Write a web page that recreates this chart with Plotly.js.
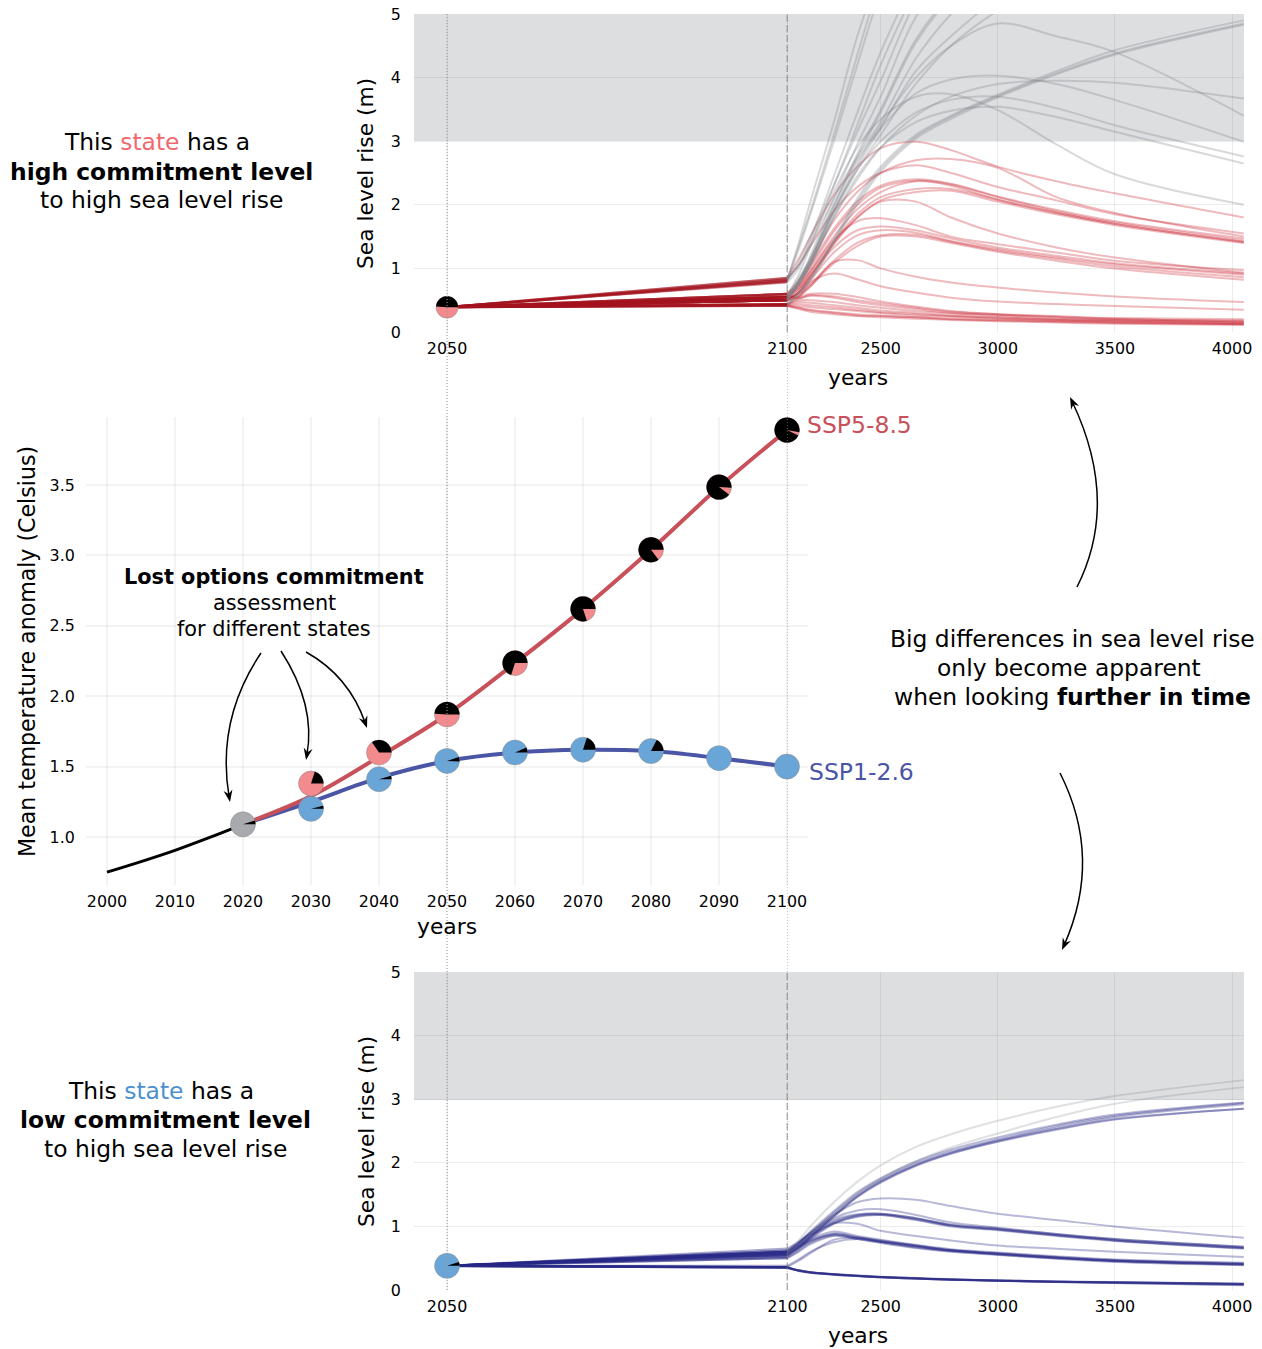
<!DOCTYPE html>
<html>
<head>
<meta charset="utf-8">
<script src="https://cdn.plot.ly/plotly-3.0.1.min.js"></script>
<style>body{margin:0;background:#fff}</style>
</head>
<body>
<div id="plot" style="width:1262px;height:1349px"></div>
<script>
// years of the sea level curves after 2100
var long_years = [2100,2150,2200,2300,2400,2500,2650,2800,3000,3250,3500,4050];
var start_2050_top = 0.39;
var start_2050_bottom = 0.38;

// SSP5-8.5 sea level, curves that stay under 3 m
var top_red = [
 [.85,1.15,1.5,2.15,2.6,2.89,2.99,2.86,2.6,2.37,2.18,1.80],
 [.6,.8,1.1,1.75,2.2,2.5,2.7,2.72,2.58,2.12,1.87,1.5],
 [.85,1.05,1.35,1.9,2.28,2.5,2.62,2.5,2.28,2.07,1.85,1.55],
 [.6,.75,1.05,1.62,2.05,2.3,2.4,2.33,2.13,1.92,1.74,1.47],
 [.55,.72,1.0,1.58,2.0,2.27,2.38,2.32,2.12,1.9,1.72,1.44],
 [.55,.68,.95,1.5,1.93,2.2,2.37,2.3,2.08,1.88,1.7,1.42],
 [.5,.65,.9,1.42,1.85,2.12,2.25,2.25,2.08,1.87,1.7,1.41],
 [.52,.62,.85,1.38,1.8,2.07,2.2,2.22,2.05,1.85,1.68,1.4],
 [.5,.62,.88,1.4,1.8,2.05,2.05,1.8,1.55,1.33,1.17,.93],
 [.6,.72,.95,1.45,1.74,1.79,1.68,1.5,1.38,1.25,1.12,.97],
 [.55,.68,.88,1.33,1.6,1.66,1.6,1.47,1.33,1.2,1.08,.92],
 [.5,.62,.82,1.25,1.52,1.6,1.56,1.43,1.3,1.17,1.06,.9],
 [.53,.6,.75,1.12,1.4,1.52,1.53,1.42,1.28,1.15,1.03,.86],
 [.5,.55,.72,1.08,1.35,1.5,1.5,1.4,1.26,1.12,1.0,.82],
 [.52,.58,.72,1.1,1.13,1.0,.87,.78,.7,.62,.56,.47],
 [.5,.55,.78,.92,.83,.72,.62,.54,.48,.44,.41,.35],
 [.58,.55,.6,.6,.55,.48,.4,.33,.28,.24,.22,.2],
 [.56,.53,.57,.54,.47,.42,.36,.3,.27,.23,.2,.18],
 [.44,.5,.5,.47,.42,.38,.33,.29,.25,.21,.19,.16],
 [.43,.47,.46,.42,.38,.34,.3,.26,.23,.2,.18,.15],
 [.43,.44,.42,.39,.35,.31,.28,.25,.22,.19,.17,.14],
 [.42,.41,.39,.36,.33,.3,.26,.24,.21,.18,.16,.13],
 [.42,.38,.35,.31,.28,.26,.23,.21,.19,.17,.15,.12],
 [.41,.36,.32,.28,.25,.23,.21,.19,.17,.15,.13,.11],
 [.41,.38,.34,.3,.26,.25,.23,.2,.18,.16,.14,.12],
 [.44,.52,.58,.56,.5,.45,.38,.32,.28,.25,.21,.17]
];
// SSP5-8.5 sea level, curves that pass 3 m (the steep ones leave the axis at 5)
var top_gray = [
 [.8,1.4,2.05,3.3,4.65,5.7],
 [.82,1.35,1.9,3.1,4.35,5.6],
 [.79,1.3,1.85,3.0,4.2,5.4],
 [.78,1.0,1.45,2.45,3.45,4.4,5.6],
 [.55,.9,1.35,2.3,3.25,4.2,5.4],
 [.8,1.1,1.5,2.3,3.15,3.95,5.2,6],
 [.5,.8,1.2,2.1,2.95,3.7,4.95,5.6],
 [.5,.8,1.15,2.0,2.8,3.5,4.6,5.3,5.9],
 [.5,.75,1.1,1.95,2.75,3.45,4.55,5.25,5.8],
 [.82,1.05,1.35,2.1,2.75,3.3,4.3,5.0,5.7],
 [.55,.8,1.15,1.9,2.6,3.2,4.1,4.65,5.25,5.8],
 [.5,.75,1.05,1.85,2.55,3.1,3.9,4.5,5.05,5.5],
 [.55,.8,1.1,1.9,2.65,3.25,4.0,4.5,4.85,4.65,4.4,3.4],
 [.6,.85,1.15,2.0,2.7,3.2,3.75,3.97,4.03,3.9,3.65,2.99],
 [.5,.75,1.05,1.8,2.4,2.9,3.4,3.7,3.9,3.95,3.92,3.67],
 [.55,.8,1.1,1.9,2.55,3.0,3.45,3.65,3.7,3.52,3.25,2.76],
 [.5,.75,1.05,1.8,2.45,2.9,3.3,3.48,3.54,3.38,3.15,2.65],
 [.83,1.05,1.4,2.2,2.9,3.35,3.7,3.74,3.49,2.95,2.48,2.0],
 [.44,.62,.85,1.45,2.1,2.6,3.1,3.4,3.73,4.1,4.43,4.9],
 [.44,.6,.83,1.42,2.05,2.56,3.07,3.38,3.71,4.07,4.38,4.85],
 [.42,.58,.8,1.4,2.0,2.52,3.04,3.35,3.69,4.05,4.36,4.83]
];
// SSP1-2.6 sea level
var bottom_blue = [
 [.65,.76,.92,1.24,1.54,1.76,2.02,2.21,2.4,2.6,2.76,2.95],
 [.62,.73,.89,1.21,1.51,1.73,1.99,2.18,2.37,2.58,2.74,2.94],
 [.6,.7,.86,1.18,1.48,1.71,1.97,2.16,2.35,2.55,2.72,2.92],
 [.57,.68,.84,1.16,1.47,1.7,1.96,2.15,2.34,2.53,2.69,2.85],
 [.55,.66,.82,1.15,1.46,1.69,1.95,2.14,2.33,2.52,2.68,2.85],
 [.62,.75,.88,1.1,1.19,1.2,1.13,1.03,.97,.88,.8,.68],
 [.6,.72,.86,1.08,1.18,1.2,1.13,1.02,.96,.87,.79,.67],
 [.58,.7,.84,1.06,1.17,1.19,1.12,1.02,.95,.86,.78,.66],
 [.56,.68,.82,1.05,1.16,1.18,1.11,1.01,.95,.86,.78,.66],
 [.54,.66,.8,1.04,1.15,1.18,1.1,1.0,.94,.85,.77,.65],
 [.6,.74,.9,1.13,1.25,1.27,1.18,1.06,.98,.88,.8,.68],
 [.6,.74,.9,1.18,1.38,1.44,1.42,1.32,1.2,1.1,1.0,.82],
 [.58,.7,.85,1.05,1.04,.93,.85,.78,.7,.65,.6,.52],
 [.55,.68,.78,.89,.83,.78,.7,.63,.58,.52,.47,.42],
 [.53,.66,.77,.88,.82,.76,.69,.62,.57,.51,.46,.41],
 [.52,.64,.76,.87,.82,.76,.68,.62,.56,.5,.46,.4],
 [.5,.62,.74,.86,.8,.75,.67,.61,.56,.5,.45,.4],
 [.5,.6,.72,.85,.8,.74,.66,.6,.55,.49,.44,.39],
 [.56,.69,.8,.92,.85,.79,.71,.64,.59,.53,.48,.43],
 [.36,.46,.58,.79,.82,.77,.7,.63,.57,.51,.46,.41],
 [.38,.48,.6,.75,.8,.76,.69,.62,.57,.51,.46,.4],
 [.36,.31,.28,.25,.23,.21,.19,.17,.15,.135,.125,.10],
 [.36,.31,.28,.245,.225,.205,.185,.165,.15,.13,.12,.09],
 [.35,.3,.27,.24,.22,.2,.18,.16,.145,.125,.11,.08],
 [.35,.3,.27,.24,.22,.2,.18,.165,.145,.13,.115,.10],
 [.36,.31,.28,.25,.225,.205,.18,.165,.15,.13,.12,.095],
 [.36,.305,.275,.245,.22,.2,.18,.16,.145,.13,.115,.09],
 [.355,.31,.28,.25,.225,.205,.185,.165,.15,.135,.12,.10],
 [.35,.305,.275,.245,.22,.2,.18,.16,.145,.125,.11,.075]
];
var bottom_gray = [
 [.6,.78,1.0,1.38,1.7,1.96,2.25,2.45,2.66,2.88,3.05,3.3],
 [.58,.7,.87,1.2,1.5,1.75,2.02,2.24,2.46,2.72,2.93,3.19]
];

// temperature panel
var history_years = [2000,2005,2010,2015,2020];
var history_temp = [.75,.825,.905,.995,1.09];
var scenario_years = [2020,2030,2040,2050,2060,2070,2080,2090,2100];
var ssp585_temp = [1.09,1.29,1.57,1.87,2.235,2.62,3.04,3.485,3.89];
var ssp126_temp = [1.09,1.25,1.42,1.54,1.60,1.62,1.61,1.56,1.50];
var decade_ticks = [2000,2010,2020,2030,2040,2050,2060,2070,2080,2090,2100];
var temp_ticks = [1,1.5,2,2.5,3,3.5];

// lost options pies: position, black share, and angle the black part starts from
var pie_years = [2030,2040,2050,2060,2070,2080,2090,2100];
var ssp585_pie_temp = [1.38,1.60,1.87,2.235,2.62,3.04,3.485,3.89];
var ssp585_lost = [.2,.345,.49,.70,.80,.853,.906,.958];
var ssp585_lost_start = [0,0,0,0,0,0,-3,-10];
var ssp126_pie_temp = [1.20,1.41,1.54,1.60,1.62,1.61,1.56,1.50];
var ssp126_lost = [.04,.045,.058,.065,.2,.175,0,0];
var ssp126_lost_start = [0,0,-3,0,0,0,0,0];
var today_year = 2020, today_temp = 1.09, today_lost = .05;
var top_pie_year = 2050, top_pie_level = .39, top_pie_lost = .49;
var bottom_pie_year = 2050, bottom_pie_level = .38, bottom_pie_lost = .05;

var W = 1262, H = 1349;
function px(x){ return x / W; }
function py(y){ return 1 - y / H; }

var RED = 'rgba(200,25,40,0.3)', GRAY = 'rgba(125,130,135,0.3)', BLUE = 'rgba(40,40,135,0.33)';
var traces = [];

function add_sea_curves(lines, start, first_color, color, xa, xb, ya){
   lines.forEach(function(v){
      traces.push({x:[2050,2100], y:[start,v[0]], xaxis:xa, yaxis:ya, mode:'lines', hoverinfo:'skip',
         line:{color:first_color, width:2.2}});
      traces.push({x:long_years.slice(0,v.length), y:v, xaxis:xb, yaxis:ya, mode:'lines', hoverinfo:'skip',
         line:{color:color, width:2, shape:'spline', smoothing:1}});
   });
}
add_sea_curves(top_red, start_2050_top, 'rgba(165,20,30,0.45)', RED, 'x', 'x2', 'y');
add_sea_curves(top_gray, start_2050_top, 'rgba(165,20,30,0.45)', GRAY, 'x', 'x2', 'y');
add_sea_curves(bottom_blue, start_2050_bottom, 'rgba(40,40,135,0.4)', BLUE, 'x4', 'x5', 'y3');
add_sea_curves(bottom_gray, start_2050_bottom, 'rgba(40,40,135,0.4)', 'rgba(125,130,135,0.25)', 'x4', 'x5', 'y3');

// temperature lines
traces.push({x:history_years, y:history_temp, xaxis:'x3', yaxis:'y2', mode:'lines', hoverinfo:'skip',
   line:{color:'black', width:3, shape:'spline'}});
traces.push({x:scenario_years, y:ssp126_temp, xaxis:'x3', yaxis:'y2', mode:'lines', name:'SSP1-2.6',
   line:{color:'#4b55a5', width:4, shape:'spline'}});
traces.push({x:scenario_years, y:ssp585_temp, xaxis:'x3', yaxis:'y2', mode:'lines', name:'SSP5-8.5',
   line:{color:'#c8505a', width:4, shape:'spline'}});

function add_dots(x, y, color, size, xa, ya){
   traces.push({x:x, y:y, xaxis:xa, yaxis:ya, mode:'markers', hoverinfo:'x+y', cliponaxis:false,
      marker:{color:color, size:size, line:{color:'#8a8a8a', width:0.5}}});
}
add_dots(pie_years, ssp126_pie_temp, '#6aa5d8', 25, 'x3', 'y2');
add_dots(pie_years, ssp585_pie_temp, '#f28a8e', 25, 'x3', 'y2');
add_dots([today_year], [today_temp], '#a9aaad', 25, 'x3', 'y2');
add_dots([top_pie_year], [top_pie_level], '#f28a8e', 22, 'x', 'y');
add_dots([bottom_pie_year], [bottom_pie_level], '#6aa5d8', 25, 'x4', 'y3');

// black part of a pie, drawn in pixels around its data point
function wedge(x, y, share, start, radius, xa, ya){
   var path = 'M0,0';
   var steps = Math.max(2, Math.ceil(share * 72));
   for(var i = 0; i <= steps; i++){
      var a = (start + 360 * share * i / steps) * Math.PI / 180;
      path += ' L' + (radius * Math.cos(a)).toFixed(2) + ',' + (radius * Math.sin(a)).toFixed(2);
   }
   return {type:'path', xref:xa, yref:ya, xsizemode:'pixel', ysizemode:'pixel', xanchor:x, yanchor:y,
      path:path + ' Z', fillcolor:'black', line:{width:0}, layer:'above'};
}

// curved arrow from pixel (x0,y0) to (x1,y1) bending over (cx,cy)
function arrow(x0, y0, cx, cy, x1, y1){
   var a = Math.atan2(y1 - cy, x1 - cx);
   function head(d, s){
      var hx = x1 - d * Math.cos(a) - s * Math.sin(a);
      var hy = y1 - d * Math.sin(a) + s * Math.cos(a);
      return px(hx) + ',' + py(hy);
   }
   return [
      {type:'path', xref:'paper', yref:'paper', layer:'above', line:{color:'black', width:1.5},
         path:'M' + px(x0) + ',' + py(y0) + ' Q' + px(cx) + ',' + py(cy) + ' ' + head(5,0)},
      {type:'path', xref:'paper', yref:'paper', layer:'above', fillcolor:'black', line:{width:0},
         path:'M' + head(0,0) + ' L' + head(12,4.5) + ' L' + head(8,0) + ' L' + head(12,-4.5) + ' Z'}
   ];
}

var shapes = [];
// 3 m to 5 m band
[[14,141],[972,1100]].forEach(function(b){
   shapes.push({type:'rect', xref:'paper', yref:'paper', x0:px(414), x1:px(1244), y0:py(b[0]), y1:py(b[1]),
      fillcolor:'#dddee0', line:{width:0}, layer:'below'});
});
pie_years.forEach(function(year, i){
   shapes.push(wedge(year, ssp585_pie_temp[i], ssp585_lost[i], ssp585_lost_start[i], 12.5, 'x3', 'y2'));
   if(ssp126_lost[i] > 0){
      shapes.push(wedge(year, ssp126_pie_temp[i], ssp126_lost[i], ssp126_lost_start[i], 12.5, 'x3', 'y2'));
   }
});
shapes.push(wedge(today_year, today_temp, today_lost, 0, 12.5, 'x3', 'y2'));
shapes.push(wedge(top_pie_year, top_pie_level, top_pie_lost, 0, 11, 'x', 'y'));
shapes.push(wedge(bottom_pie_year, bottom_pie_level, bottom_pie_lost, 0, 12.5, 'x4', 'y3'));
[2050,2100].forEach(function(year){
   shapes.push({type:'line', xref:'x', yref:'paper', x0:year, x1:year, y0:py(14), y1:py(1290), layer:'above',
      line:{color:'#9a9a9a', width:1.1, dash:'1px,2px'}});
});
[['x','y'],['x4','y3']].forEach(function(a){
   shapes.push({type:'line', xref:a[0], yref:a[1], x0:2100, x1:2100, y0:0, y1:5, layer:'above',
      line:{color:'#6e6e6e', width:1.5, dash:'7px,3px'}});
});
shapes = shapes.concat(
   arrow(261,653,216,720,230,802),
   arrow(281,651,316,705,306,760),
   arrow(306,652,349,676,367,728),
   arrow(1077,587,1120,502,1070,397),
   arrow(1060,773,1103,858,1062,950)
);

// every text line is its own annotation, the line spacing of the original is tighter than plotly's
function label(text, x, y, size, color, angle){
   return {text:text, xref:'paper', yref:'paper', x:px(x), y:py(y), xanchor:'center', yanchor:'middle',
      showarrow:false, textangle:angle || 0, font:{family:'DejaVu Sans', size:size, color:color || 'black'}};
}
var annotations = [
   label('This <span style="color:#f0686e">state</span> has a', 157, 142.5, 23.4),
   label('<b>high commitment level</b>', 162, 171.5, 23.4),
   label('to high sea level rise', 162, 200.5, 23.4),
   label('This <span style="color:#4a90d0">state</span> has a', 161, 1090.5, 23.4),
   label('<b>low commitment level</b>', 165, 1119.5, 23.4),
   label('to high sea level rise', 165, 1148.5, 23.4),
   label('<b>Lost options commitment</b>', 274, 577, 20.8),
   label('assessment', 274, 603, 20.8),
   label('for different states', 274, 629, 20.8),
   label('Big differences in sea level rise', 1072, 639, 23.4),
   label('only become apparent', 1069, 668, 23.4),
   label('when looking <b>further in time</b>', 1072, 697, 23.4),
   label('SSP5-8.5', 860, 425, 23.5, '#c8505a'),
   label('SSP1-2.6', 861, 772, 23.5, '#4b55a5'),
   label('years', 858, 377, 21.8),
   label('years', 447, 926, 21.8),
   label('years', 858, 1335, 21.8),
   label('Sea level rise (m)', 366, 173, 21.8, 'black', -90),
   label('Sea level rise (m)', 366, 1131, 21.8, 'black', -90),
   label('Mean temperature anomaly (Celsius)', 27, 652, 22.1, 'black', -90)
];

var tick_font = {family:'DejaVu Sans', size:15.9, color:'black'};
var grid_color = 'rgba(100,100,100,0.12)';
var middle_grid_color = 'rgba(100,100,100,0.075)';
function x_axis(left, right, range, ticks, anchor, grid_width, color){
   return {domain:[px(left), px(right)], range:range, anchor:anchor, tickmode:'array', tickvals:ticks,
      ticktext:ticks.map(String), showline:false, zeroline:false, showgrid:true, gridcolor:color,
      gridwidth:grid_width, ticks:'outside', ticklen:2, tickcolor:'rgba(0,0,0,0)', tickfont:tick_font};
}
function y_axis(top, bottom, range, ticks, anchor, grid_width, text, gap, color){
   return {domain:[py(bottom), py(top)], range:range, anchor:anchor, tickmode:'array', tickvals:ticks,
      ticktext:text, showline:false, zeroline:false, showgrid:true, gridcolor:color,
      gridwidth:grid_width, ticks:'outside', ticklen:gap, tickcolor:'rgba(0,0,0,0)', tickfont:tick_font};
}
var level_ticks = [0,1,2,3,4,5];
var range_a = [2050 - 33 / 6.8, 2100];
var range_b = [2100, 4051];

Plotly.newPlot('plot', traces, {
   width:W, height:H, showlegend:false,
   margin:{l:0, r:0, t:0, b:0, pad:0},
   paper_bgcolor:'white', plot_bgcolor:'rgba(0,0,0,0)',
   xaxis:x_axis(414, 787.5, range_a, [2050,2100], 'y', 1, grid_color),
   xaxis2:x_axis(787, 1244, range_b, [2500,3000,3500,4000], 'y', 1, grid_color),
   xaxis3:x_axis(86, 808, [2000 - 21 / 6.8, 2100 + 21 / 6.8], decade_ticks, 'y2', 1.6, middle_grid_color),
   xaxis4:x_axis(414, 787.5, range_a, [2050,2100], 'y3', 1, grid_color),
   xaxis5:x_axis(787, 1244, range_b, [2500,3000,3500,4000], 'y3', 1, grid_color),
   yaxis:y_axis(14, 332, [0,5], level_ticks, 'x', 1, level_ticks.map(String), 9, grid_color),
   yaxis2:y_axis(417, 885, [.659,3.983], temp_ticks, 'x3', 1.6, temp_ticks.map(function(t){return t.toFixed(1);}), 7, middle_grid_color),
   yaxis3:y_axis(972, 1290, [0,5], level_ticks, 'x4', 1, level_ticks.map(String), 9, grid_color),
   shapes:shapes,
   annotations:annotations
}, {displayModeBar:false});
</script>
</body>
</html>
